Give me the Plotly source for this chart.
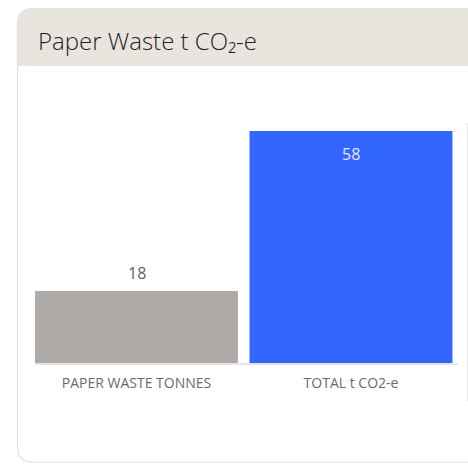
import plotly.graph_objects as go

# Chart data
categories = ["PAPER WASTE TONNES", "TOTAL t CO2-e"]
values = [18, 58]
bar_colors = ["#aeaaa8", "#3366ff"]
title_text = "Paper Waste t CO\u2082-e"

W, H = 468, 464


def px(x):
    return x / W


def py(y):
    return 1 - y / H


fig = go.Figure(
    go.Bar(
        x=categories,
        y=values,
        marker=dict(color=bar_colors, line=dict(width=0)),
        hoverinfo="skip",
    )
)

# Card outline with rounded left corners
r = 15
left, top, right, bottom, header_bottom = 17.5, 8.5, 500, 462, 66


def card_path(y_end, close_bottom):
    p = f"M {px(left)},{py(y_end if not close_bottom else bottom - r)} "
    p += f"L {px(left)},{py(top + r)} "
    p += f"Q {px(left)},{py(top)} {px(left + r)},{py(top)} "
    p += f"L {px(right)},{py(top)} "
    p += f"L {px(right)},{py(y_end)} "
    if close_bottom:
        p += f"L {px(left + r)},{py(bottom)} "
        p += f"Q {px(left)},{py(bottom)} {px(left)},{py(bottom - r)} "
    p += "Z"
    return p


shapes = [
    # card body
    dict(type="path", xref="paper", yref="paper", path=card_path(bottom, True),
         fillcolor="white", line=dict(color="#e4e1db", width=1.2), layer="below"),
    # header band
    dict(type="path", xref="paper", yref="paper", path=card_path(header_bottom, False),
         fillcolor="#e8e5df", line=dict(width=0), layer="below"),
    # baseline under the bars
    dict(type="line", xref="paper", yref="paper", x0=px(35), x1=px(458),
         y0=py(364), y1=py(364), line=dict(color="#dcdcdc", width=1.5), layer="above"),
    # neighbouring panel edge
    dict(type="line", xref="paper", yref="paper", x0=px(467.5), x1=px(467.5),
         y0=py(123), y1=py(402), line=dict(color="#ececec", width=1.5), layer="below"),
]

annotations = [
    dict(xref="paper", yref="paper", x=px(36), y=py(40), xanchor="left", yanchor="middle",
         text=title_text, showarrow=False,
         font=dict(family="Open Sans", size=24, color="#1f1f1f", weight=300)),
]

# value labels: small one above its bar, large one inside the top of its bar
annotations.append(dict(x=categories[0], y=values[0], xref="x", yref="y", text=str(values[0]),
                        showarrow=False, yanchor="bottom", yshift=5,
                        font=dict(family="Open Sans", size=16, color="#5e5e5e")))
annotations.append(dict(x=categories[1], y=values[1], xref="x", yref="y", text=str(values[1]),
                        showarrow=False, yanchor="top", yshift=-10,
                        font=dict(family="Open Sans", size=16, color="#e3e9ff")))

fig.update_layout(
    width=W,
    height=H,
    autosize=False,
    margin=dict(l=0, r=0, t=0, b=0),
    paper_bgcolor="white",
    plot_bgcolor="rgba(0,0,0,0)",
    bargap=0.054,
    showlegend=False,
    shapes=shapes,
    annotations=annotations,
    xaxis=dict(
        domain=[px(29.25), px(458.25)],
        showgrid=False, zeroline=False, showline=False, ticks="",
        ticklabelstandoff=10,
        tickfont=dict(family="Open Sans", size=14, color="#6b6b6b"),
        fixedrange=True,
    ),
    yaxis=dict(
        domain=[py(363), py(123)],
        range=[0, 60],
        visible=False,
        fixedrange=True,
    ),
)

fig.write_html("out.html")
